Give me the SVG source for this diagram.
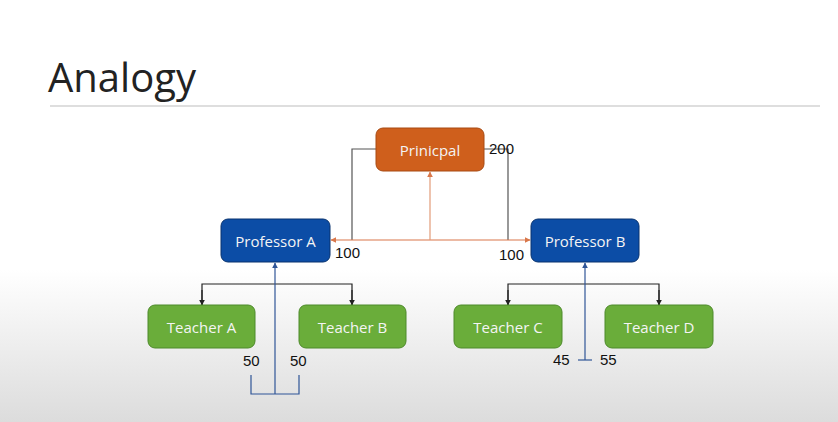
<svg xmlns="http://www.w3.org/2000/svg" width="838" height="422" viewBox="0 0 838 422">
<defs>
<linearGradient id="bg" x1="0" y1="0" x2="0" y2="1">
<stop offset="0" stop-color="#ffffff"/>
<stop offset="0.64" stop-color="#ffffff"/>
<stop offset="1" stop-color="#dcdcdc"/>
</linearGradient>
<marker id="ao" viewBox="0 0 10 10" refX="9" refY="5" markerWidth="5" markerHeight="5" orient="auto-start-reverse"><path d="M0,0 L10,5 L0,10 z" fill="#d9774a"/></marker>
<marker id="ak" viewBox="0 0 10 10" refX="9" refY="5" markerWidth="5" markerHeight="5" orient="auto"><path d="M0,0 L10,5 L0,10 z" fill="#222"/></marker>
<marker id="ab" viewBox="0 0 10 10" refX="9" refY="5" markerWidth="5" markerHeight="5" orient="auto"><path d="M0,0 L10,5 L0,10 z" fill="#2f5597"/></marker>
</defs>
<style>
.box text{font-family:"Open Sans","Liberation Sans",sans-serif;font-size:15px;fill:#f4f4f4;text-anchor:middle;dominant-baseline:central}
.num{font-family:"Liberation Sans",Arial,sans-serif;font-size:15px;fill:#111}
.org{fill:#cf5f1c;stroke:#a84a12;stroke-width:1}
.blu{fill:#0c4da6;stroke:#08336f;stroke-width:1}
.grn{fill:#6aad3a;stroke:#4d8a2a;stroke-width:1}
</style>
<rect width="838" height="422" fill="url(#bg)"/>
<text x="48" y="92" font-family="Open Sans, Liberation Sans, sans-serif" font-weight="400" font-size="40" fill="#222" textLength="148" lengthAdjust="spacingAndGlyphs">Analogy</text>
<line x1="50" y1="106" x2="820" y2="106" stroke="#bdbdbd" stroke-width="1.2"/>

<g id="connectors" fill="none">
<polyline points="376,149 352,149 352,240" stroke="#555" stroke-width="1.2"/>
<polyline points="484,149 508,149 508,240" stroke="#555" stroke-width="1.2"/>
<line x1="331" y1="240" x2="530" y2="240" stroke="#d9774a" stroke-width="1.2" marker-start="url(#ao)" marker-end="url(#ao)"/>
<line x1="430" y1="240" x2="430" y2="172" stroke="#e29b78" stroke-width="1.2" marker-end="url(#ao)"/>
<polyline points="202,305 202,284 352,284 352,305" stroke="#222" stroke-width="1.2"/>
<line x1="202" y1="290" x2="202" y2="305" stroke="#222" stroke-width="1.2" marker-end="url(#ak)"/>
<line x1="352" y1="290" x2="352" y2="305" stroke="#222" stroke-width="1.2" marker-end="url(#ak)"/>
<polyline points="508,305 508,284 659,284 659,305" stroke="#222" stroke-width="1.2"/>
<line x1="508" y1="290" x2="508" y2="305" stroke="#222" stroke-width="1.2" marker-end="url(#ak)"/>
<line x1="659" y1="290" x2="659" y2="305" stroke="#222" stroke-width="1.2" marker-end="url(#ak)"/>
<line x1="275" y1="394" x2="275" y2="263" stroke="#2f5597" stroke-width="1.2" marker-end="url(#ab)"/>
<polyline points="251,375 251,394 299,394 299,375" stroke="#2f5597" stroke-width="1.2"/>
<line x1="585" y1="360" x2="585" y2="263" stroke="#2f5597" stroke-width="1.2" marker-end="url(#ab)"/>
<line x1="578" y1="360" x2="592" y2="360" stroke="#2f5597" stroke-width="1.2"/>
</g>

<g id="principal" class="box"><rect class="org" x="376" y="128" width="108" height="43" rx="7"/><text x="430" y="149.5">Prinicpal</text></g>
<g id="professorA" class="box"><rect class="blu" x="221" y="219" width="109" height="43" rx="7"/><text x="275.5" y="240.5">Professor A</text></g>
<g id="professorB" class="box"><rect class="blu" x="531" y="219" width="108" height="43" rx="7"/><text x="585" y="240.5">Professor B</text></g>
<g id="teacherA" class="box"><rect class="grn" x="148" y="305" width="107" height="43" rx="7"/><text x="201.5" y="326.5">Teacher A</text></g>
<g id="teacherB" class="box"><rect class="grn" x="299" y="305" width="107" height="43" rx="7"/><text x="352.5" y="326.5">Teacher B</text></g>
<g id="teacherC" class="box"><rect class="grn" x="454" y="305" width="108" height="43" rx="7"/><text x="508" y="326.5">Teacher C</text></g>
<g id="teacherD" class="box"><rect class="grn" x="605" y="305" width="108" height="43" rx="7"/><text x="659" y="326.5">Teacher D</text></g>

<g id="labels">
<text class="num" x="489" y="154">200</text>
<text class="num" x="335" y="258">100</text>
<text class="num" x="499" y="260">100</text>
<text class="num" x="243" y="366">50</text>
<text class="num" x="290" y="366">50</text>
<text class="num" x="553" y="365">45</text>
<text class="num" x="600" y="365">55</text>
</g>
</svg>
